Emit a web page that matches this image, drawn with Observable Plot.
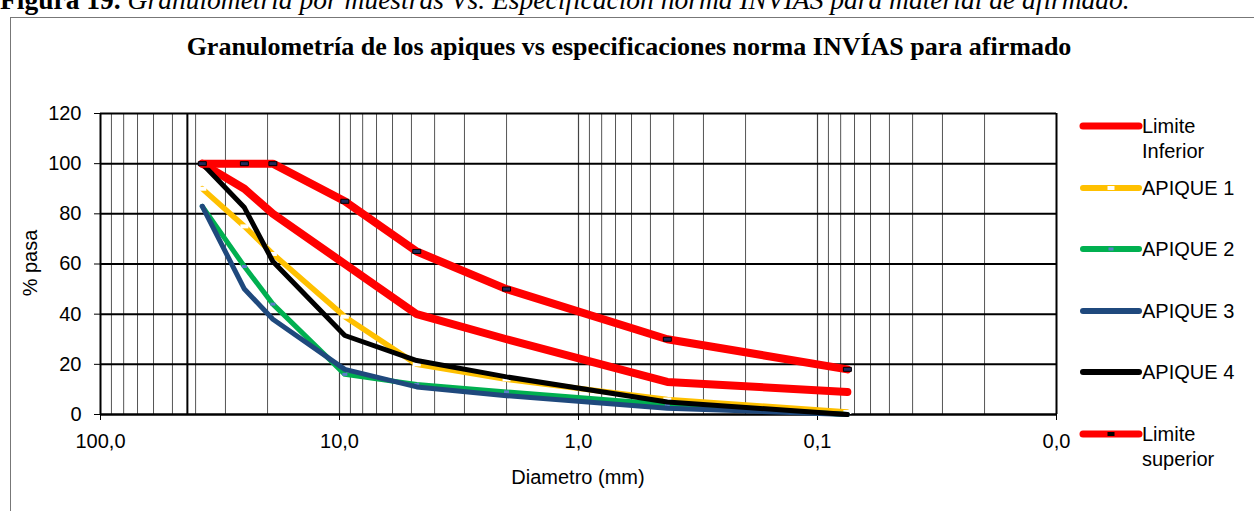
<!DOCTYPE html>
<html><head><meta charset="utf-8">
<script src="https://cdn.jsdelivr.net/npm/d3@7"></script>
<script src="https://cdn.jsdelivr.net/npm/@observablehq/plot@0.6"></script>
<style>
body{margin:0;width:1254px;height:511px;overflow:hidden;position:relative;background:#fff;font-family:"Liberation Sans",Arial,sans-serif;}
#caption{position:absolute;left:0;top:-16px;font:27.5px "Liberation Serif","Times New Roman",serif;line-height:31px;white-space:nowrap;color:#000;}
#frame{position:absolute;left:10px;top:17px;width:1400px;height:600px;border:1px solid #777;}
#title{position:absolute;left:0;width:1258px;top:32px;text-align:center;font:bold 26px "Liberation Serif","Times New Roman",serif;line-height:30px;}
#chart{position:absolute;left:0;top:80px;}
#ylabel{position:absolute;left:30px;top:263px;transform:translate(-50%,-50%) rotate(-90deg);font-size:20px;white-space:nowrap;}
#xlabel{position:absolute;left:578px;top:477px;transform:translate(-50%,-50%);font-size:20px;white-space:nowrap;}
.lg{position:absolute;font-size:20px;line-height:25px;white-space:nowrap;}
</style></head>
<body>
<div id="frame"></div>
<div id="caption"><b>Figura 19.</b> <i>Granulometría por muestras Vs. Especificación norma INVIAS para material de afirmado.</i></div>
<div id="title">Granulometría de los apiques vs especificaciones norma INVÍAS para afirmado</div>
<div id="chart"></div>
<div id="ylabel">% pasa</div>
<div id="xlabel">Diametro (mm)</div>
<div id="legend"></div>
<script>
// Data (diameter in mm, % passing)
const sieves = [37.5, 25, 19, 9.5, 4.75, 2.0, 0.425, 0.075];
const limiteInferior = [100, 90, 80, 60, 40, 30, 13, 9];
const apique1 = [90, 75, 64, 39, 20, 14, 6, 1];
const apique2 = [83, 59, 44, 16, 12, 9, 4, 0];
const apique3 = [83, 50, 38, 18, 11, 7.5, 2.5, 0];
const apique4 = [100, 82.5, 61, 31.5, 21.5, 15, 5, 0];
const limiteSuperior = [100, 100, 100, 85, 65, 50, 30, 18];

const seriesNames = ["Limite Inferior", "APIQUE 1", "APIQUE 2", "APIQUE 3", "APIQUE 4", "Limite superior"];
const seriesValues = [limiteInferior, apique1, apique2, apique3, apique4, limiteSuperior];
const seriesColors = ["#ff0000", "#ffc000", "#00b050", "#1f497d", "#000000", "#ff0000"];
const seriesWidths = [8, 5.5, 5, 5, 5, 8];

const yTicks = [0, 20, 40, 60, 80, 100, 120];
const xTicks = [100, 10, 1, 0.1, 0.01];
const extraLine = [43.3];

// minor log grid positions
const minorGrid = [];
for (const dec of [10, 1, 0.1, 0.01]) for (let k = 2; k <= 9; k++) minorGrid.push(+(dec * k).toPrecision(3));

const table = [];
seriesNames.forEach((s, i) => sieves.forEach((d, j) => table.push({serie: s, d, p: seriesValues[i][j]})));
const bySerie = s => table.filter(r => r.serie === s);

const rectSym = (w, h) => ({draw(ctx) { ctx.moveTo(-w/2, -h/2); ctx.lineTo(w/2, -h/2); ctx.lineTo(w/2, h/2); ctx.lineTo(-w/2, h/2); ctx.closePath(); }});
const fmt = v => v.toFixed(1).replace(".", ",");

const lineMarks = seriesNames.map((s, i) => Plot.line(bySerie(s), {x: "d", y: "p", stroke: seriesColors[i], strokeWidth: seriesWidths[i], strokeLinecap: "round", strokeLinejoin: "round"}));

const chart = Plot.plot({
  width: 1254, height: 431,
  marginLeft: 100, marginRight: 198, marginTop: 33, marginBottom: 97,
  style: {fontFamily: "'Liberation Sans', Arial, sans-serif", fontSize: "20px", color: "#000", background: "transparent", overflow: "visible"},
  x: {type: "log", domain: [100, 0.01]},
  y: {domain: [0, 120]},
  marks: [
    Plot.ruleX(minorGrid, {stroke: "#555", strokeWidth: 1}),
    Plot.ruleX([10, 1, 0.1], {stroke: "#444", strokeWidth: 1.2}),
    Plot.ruleX(extraLine, {stroke: "#000", strokeWidth: 2}),
    Plot.ruleY(yTicks.filter(v => v > 0), {stroke: "#000", strokeWidth: 2}),
    Plot.ruleX([0.01], {stroke: "#000", strokeWidth: 2}),
    Plot.ruleX([100], {stroke: "#000", strokeWidth: 2}),
    Plot.axisY({ticks: yTicks, tickSize: 6, tickPadding: 13, tickFormat: d => String(d), label: null, fontSize: 20}),
    Plot.axisX({ticks: xTicks, tickSize: 6, tickPadding: 13, tickFormat: fmt, label: null, fontSize: 20}),
    Plot.ruleY([0], {stroke: "#000", strokeWidth: 2.5}),
    lineMarks[0],
    lineMarks[1],
    Plot.dot(bySerie("APIQUE 1"), {x: "d", y: "p", symbol: rectSym(8, 4), fill: "#fff", stroke: "none", r: 4}),
    lineMarks[2],
    Plot.dot(bySerie("APIQUE 2"), {x: "d", y: "p", symbol: rectSym(5, 3), fill: "#5b7ec9", stroke: "none", r: 3}),
    lineMarks[3],
    lineMarks[4],
    lineMarks[5],
    Plot.dot(bySerie("Limite superior"), {x: "d", y: "p", symbol: rectSym(8, 4), fill: "#1f2a5a", stroke: "#000", strokeWidth: 1, r: 4})
  ]
});
document.getElementById("chart").appendChild(chart);

// Legend
const legendRows = [126, 188, 249, 311, 372, 434];
seriesNames.forEach((s, i) => {
  const y = legendRows[i];
  const svgNS = "http://www.w3.org/2000/svg";
  const svg = document.createElementNS(svgNS, "svg");
  svg.setAttribute("width", 70); svg.setAttribute("height", 14);
  svg.style.position = "absolute"; svg.style.left = "1076px"; svg.style.top = (y - 7) + "px";
  const ln = document.createElementNS(svgNS, "line");
  ln.setAttribute("x1", 7); ln.setAttribute("x2", 63); ln.setAttribute("y1", 7); ln.setAttribute("y2", 7);
  ln.setAttribute("stroke", seriesColors[i]); ln.setAttribute("stroke-width", i === 0 || i === 5 ? 7 : 6);
  ln.setAttribute("stroke-linecap", "round");
  svg.appendChild(ln);
  if (i === 1 || i === 2 || i === 5) {
    const r = document.createElementNS(svgNS, "rect");
    const w = i === 2 ? 5 : 7, h = i === 2 ? 3 : 4;
    r.setAttribute("x", 35 - w/2); r.setAttribute("y", 7 - h/2); r.setAttribute("width", w); r.setAttribute("height", h);
    r.setAttribute("fill", i === 1 ? "#fff" : i === 2 ? "#5b7ec9" : "#000");
    svg.appendChild(r);
  }
  document.body.appendChild(svg);
  const t = document.createElement("div");
  t.className = "lg";
  const parts = s.startsWith("Limite") ? ["Limite", s.split(" ")[1]] : [s];
  t.innerHTML = parts.join("<br>");
  t.style.left = "1142px";
  t.style.top = (y - 12.5) + "px";
  document.body.appendChild(t);
});
</script>
</body></html>
